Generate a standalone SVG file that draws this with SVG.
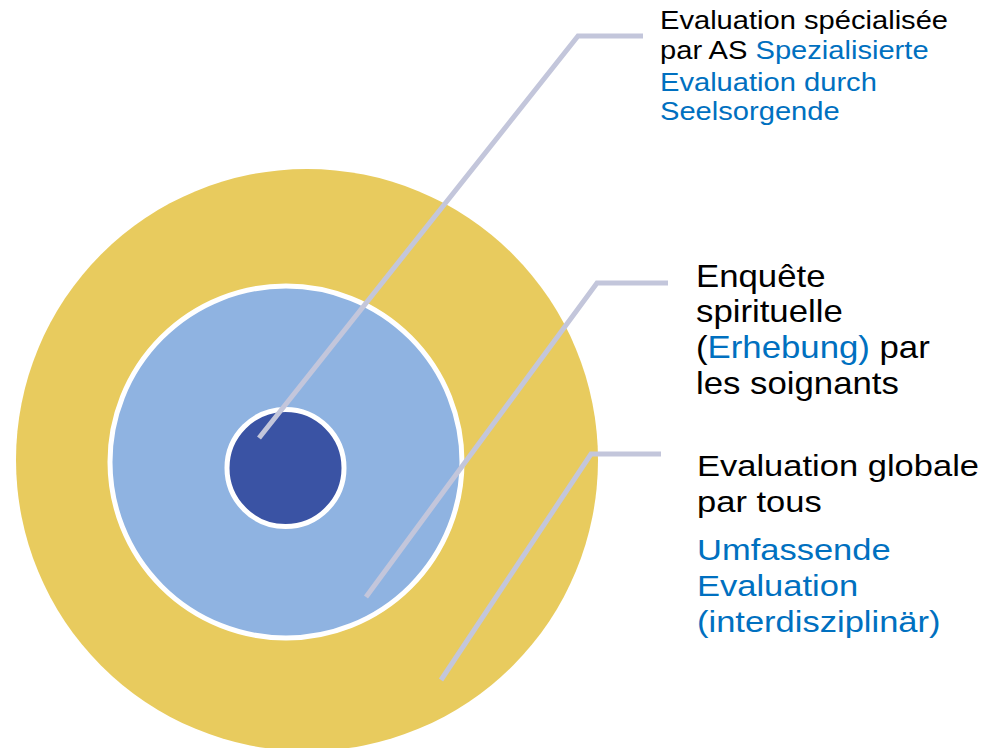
<svg xmlns="http://www.w3.org/2000/svg" width="992" height="748" viewBox="0 0 992 748">
  <style>
    .ring-outer { fill: #E8CB5E; }
    .ring-mid { fill: #8FB3E1; stroke: #FFFFFF; stroke-width: 5; }
    .ring-core { fill: #3A53A4; stroke: #FFFFFF; stroke-width: 5; }
    .leader { fill: none; stroke: #C3C6DB; stroke-width: 5; stroke-linejoin: miter; }
    .lbl { font-family: "Liberation Sans", Arial, Helvetica, sans-serif; fill: #000000; }
    .de { fill: #0070C0; }
  </style>

  <!-- concentric evaluation levels -->
  <g id="level-global">
    <circle class="ring-outer" cx="307" cy="460" r="291"/>
  </g>
  <g id="level-enquete">
    <circle class="ring-mid" cx="286" cy="462" r="176"/>
  </g>
  <g id="level-specialised">
    <circle class="ring-core" cx="285.5" cy="468" r="58.5"/>
  </g>

  <!-- leader lines from each ring to its caption -->
  <g id="connectors">
    <polyline class="leader" points="259,438 578,36 643,36"/>
    <polyline class="leader" points="366,597 597,283 668,283"/>
    <polyline class="leader" points="441,680 591,454 661,454"/>
  </g>

  <!-- captions -->
  <g id="label-specialised">
    <g transform="translate(660,0) scale(1.165,1)">
      <text class="lbl" font-size="25" x="0" y="29.5">Evaluation spécialisée</text>
      <text class="lbl" font-size="25" x="0" y="59.5">par AS <tspan class="de">Spezialisierte</tspan></text>
      <text class="lbl de" font-size="25" x="0" y="91">Evaluation durch</text>
      <text class="lbl de" font-size="25" x="0" y="120.5">Seelsorgende</text>
    </g>
  </g>

  <g id="label-enquete">
    <g transform="translate(696,0) scale(1.14,1)">
      <text class="lbl" font-size="30.5" x="0" y="287">Enquête</text>
      <text class="lbl" font-size="30.5" x="0" y="322.5">spirituelle</text>
      <text class="lbl" font-size="30.5" x="0" y="358">(<tspan class="de">Erhebung)</tspan> par</text>
      <text class="lbl" font-size="30.5" x="0" y="394">les soignants</text>
    </g>
  </g>

  <g id="label-global">
    <g transform="translate(697,0) scale(1.17,1)">
      <text class="lbl" font-size="29.5" x="0" y="476">Evaluation globale</text>
      <text class="lbl" font-size="29.5" x="0" y="512">par tous</text>
      <text class="lbl de" font-size="29.5" x="0" y="560">Umfassende</text>
      <text class="lbl de" font-size="29.5" x="0" y="596">Evaluation</text>
      <text class="lbl de" font-size="29.5" x="0" y="632">(interdisziplinär)</text>
    </g>
  </g>
</svg>
